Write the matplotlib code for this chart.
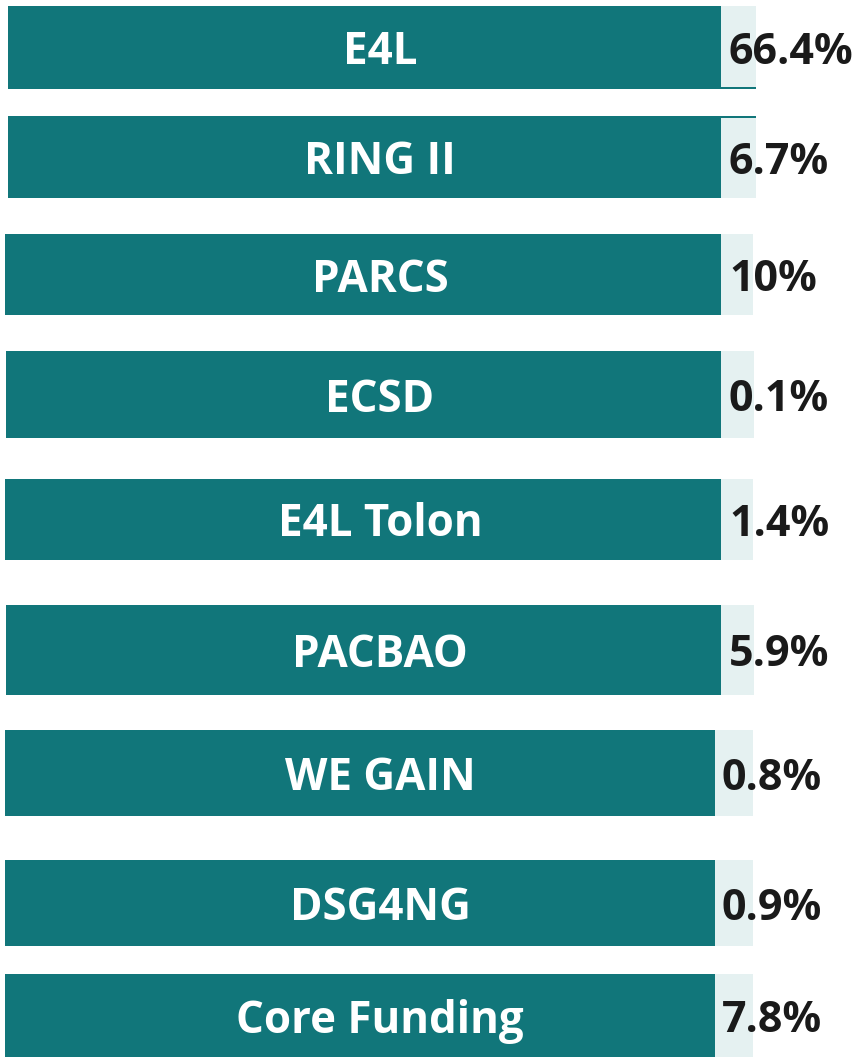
import matplotlib
matplotlib.use("Agg")
import matplotlib.pyplot as plt
from matplotlib.patches import Rectangle

# ---- data ----
categories = ["E4L", "RING II", "PARCS", "ECSD", "E4L Tolon", "PACBAO",
              "WE GAIN", "DSG4NG", "Core Funding"]
shares = [66.4, 6.7, 10, 0.1, 1.4, 5.9, 0.8, 0.9, 7.8]
share_labels = ["66.4%", "6.7%", "10%", "0.1%", "1.4%", "5.9%",
                "0.8%", "0.9%", "7.8%"]

# ---- layout (pixels) ----
row_top = [6, 116, 234, 351, 479, 605, 730, 860, 974]
row_bottom = [89, 198, 315, 438, 560, 695, 816, 946, 1057]
row_left = [8, 8, 5, 6, 5, 6, 5, 5, 5]
teal_right = [721, 721, 721, 721, 721, 721, 715, 715, 715]
strip_right = [756, 756, 753, 754, 753, 754, 753, 753, 753]
text_x = [729, 729, 729, 729, 729, 729, 722, 722, 722]

TEAL = "#11767A"
STRIP = "#E5F1F1"
DARK = "#1a1a1a"
FONT = ["Open Sans", "DejaVu Sans"]

W, H = 857, 1057
fig = plt.figure(figsize=(W / 100, H / 100), dpi=100)
ax = fig.add_axes([0, 0, 1, 1])
ax.set_xlim(0, W)
ax.set_ylim(H, 0)
ax.axis("off")

for i, (cat, lab) in enumerate(zip(categories, share_labels)):
    t, b = row_top[i], row_bottom[i]
    h = b - t
    yc = (t + b) / 2
    # teal box
    ax.barh(yc, teal_right[i] - row_left[i], height=h, left=row_left[i],
            color=TEAL, linewidth=0)
    # light strip
    ax.barh(yc, strip_right[i] - teal_right[i], height=h, left=teal_right[i],
            color=STRIP, linewidth=0)
    # category label
    ax.text(380, yc, cat, color="white", fontsize=31.6, fontweight="bold",
            family=FONT, ha="center", va="center_baseline")
    # percentage label
    ax.text(text_x[i], yc, lab, color=DARK, fontsize=31, fontweight="bold",
            family=FONT, ha="left", va="center_baseline")

# thin teal edges between first two strips
ax.add_patch(Rectangle((721, 87), 35, 2, color=TEAL, linewidth=0))
ax.add_patch(Rectangle((721, 116), 35, 1.5, color=TEAL, linewidth=0))

fig.savefig("out.png", dpi=100)
